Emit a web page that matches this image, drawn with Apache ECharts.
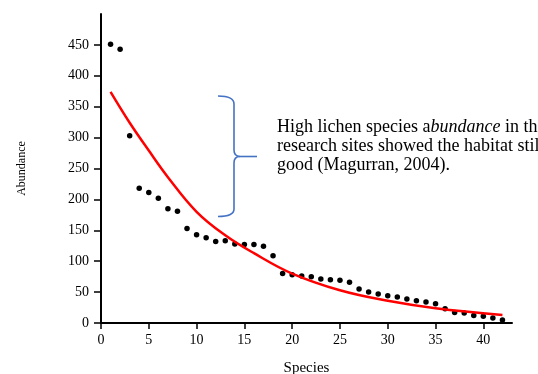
<!DOCTYPE html>
<html>
<head>
<meta charset="utf-8">
<script src="https://cdn.jsdelivr.net/npm/echarts@6/dist/echarts.min.js"></script>
<style>
html,body{margin:0;padding:0;background:#fff;}
#chart{width:538px;height:374px;}
</style>
</head>
<body>
<div id="chart"></div>
<script>
var species = [1,2,3,4,5,6,7,8,9,10,11,12,13,14,15,16,17,18,19,20,21,22,23,24,25,26,27,28,29,30,31,32,33,34,35,36,37,38,39,40,41,42];
var abundance = [451,443,303,218,211,202,185,181,153,143,138,132,133,128,127,127,124,109,80,78,76,75,71,70,69,66,55,50,47,44,42,39,36,34,31,23,17,16,12,11,8,5];

// Red trend curve
var trendX = [1,3,5,7,10,13,16,20,25,30,35,42];
var trendY = [374,324,279,236,180,142,113,80,53,36,24,13];

// Tick labels
var xTicks = [0,5,10,15,20,25,30,35,40];
var yTicks = [0,50,100,150,200,250,300,350,400,450];

var annotationLines = [
  'High lichen species a{i|bundance} in the',
  'research sites showed the habitat still',
  'good (Magurran, 2004).'
];

var serif = '"Liberation Serif", "Times New Roman", serif';

var scatterData = species.map(function(s, i){ return [s, abundance[i]]; });
var trendData = trendX.map(function(s, i){ return [s, trendY[i]]; });

var chart = echarts.init(document.getElementById('chart'));
var textGraphics = annotationLines.map(function(t, i){
  return {
    type: 'text',
    x: 277,
    y: 127 + i*19,
    z: 10,
    style: {
      text: t,
      fontFamily: serif,
      fontSize: 18,
      fill: '#000',
      verticalAlign: 'middle',
      rich: { i: { fontStyle: 'italic', fontFamily: serif, fontSize: 18, fill: '#000' } }
    }
  };
});

var braceStyle = { fill: null, stroke: '#4472C4', lineWidth: 1.6 };
function bz(x1,y1,cx,cy,x2,y2){
  return { type: 'bezierCurve', z: 10, shape: { x1:x1, y1:y1, cpx1:cx, cpy1:cy, x2:x2, y2:y2 }, style: braceStyle };
}
function ln(x1,y1,x2,y2){
  return { type: 'line', z: 10, shape: { x1:x1, y1:y1, x2:x2, y2:y2 }, style: braceStyle };
}
var brace = [
  bz(218,96, 234,96, 234,104),
  ln(234,104, 234,150),
  bz(234,150, 234,156.5, 240,156.5),
  ln(240,156.5, 257,156.5),
  bz(240,156.5, 234,156.5, 234,163),
  ln(234,163, 234,209),
  bz(234,209, 234,216.5, 218,216.5)
];

chart.setOption({
  animation: false,
  backgroundColor: '#fff',
  grid: { left: 101, right: 26, top: 14, bottom: 51, containLabel: false, outerBoundsMode: 'none' },
  xAxis: {
    type: 'value', min: 0, max: 43, interval: 5,
    name: 'Species', nameLocation: 'middle', nameGap: 38,
    nameTextStyle: { fontFamily: serif, fontSize: 15, color: '#000' },
    axisLine: { lineStyle: { color: '#000', width: 2 } },
    axisTick: { show: true, inside: false, length: 6, lineStyle: { color: '#000', width: 1.5 }, customValues: xTicks },
    axisLabel: { fontFamily: serif, fontSize: 14, color: '#000', margin: 10, customValues: xTicks },
    splitLine: { show: false }
  },
  yAxis: {
    type: 'value', min: 0, max: 500, interval: 50,
    name: 'Abundance', nameLocation: 'middle', nameGap: 73, nameRotate: 90,
    nameTextStyle: { fontFamily: serif, fontSize: 12, color: '#000' },
    axisLine: { show: true, lineStyle: { color: '#000', width: 2 } },
    axisTick: { show: true, inside: false, length: 7, lineStyle: { color: '#000', width: 1.5 }, customValues: yTicks },
    axisLabel: { fontFamily: serif, fontSize: 14, color: '#000', margin: 12, customValues: yTicks },
    splitLine: { show: false }
  },
  series: [
    {
      type: 'scatter', data: scatterData, symbol: 'circle', symbolSize: 5.5,
      itemStyle: { color: '#000', opacity: 1 }, z: 2
    },
    {
      type: 'line', data: trendData, smooth: 0.4, showSymbol: false,
      lineStyle: { color: '#ff0000', width: 2.5 }, z: 3
    }
  ],
  graphic: brace.concat(textGraphics)
});
</script>
</body>
</html>
